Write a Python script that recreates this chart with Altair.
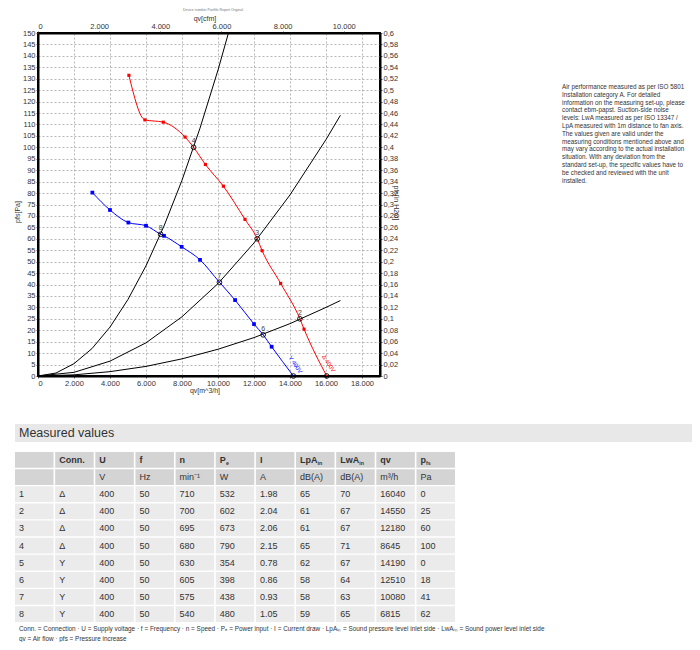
import altair as alt
import pandas as pd

# ---------------- data ----------------
# Fan curve "Δ 400V" (red): air flow m3/h, pressure Pa, 1 = drawn marker
red_q = [5050, 5940, 6960, 8170, 8645, 9300, 10300, 11500, 12180, 12450, 13480, 14550, 14780, 16040]
red_p = [131.5, 112.0, 111.0, 104.5, 100.0, 92.5, 83.0, 68.5, 60.0, 54.8, 40.5, 25.0, 20.5, 0.0]
red_m = [1, 1, 1, 1, 0, 1, 1, 1, 0, 1, 1, 0, 1, 0]
# Fan curve "Y 400V" (blue)
blue_q = [3020, 4000, 5020, 6000, 6815, 7000, 7980, 9000, 10080, 10950, 12000, 12510, 12980, 14190]
blue_p = [80.2, 72.6, 67.1, 65.7, 62.0, 61.3, 56.5, 50.8, 41.0, 33.2, 22.7, 18.0, 12.8, 0.0]
blue_m = [1, 1, 1, 1, 0, 1, 1, 1, 0, 1, 1, 0, 1, 0]
# System (resistance) curves, black
sysA_q = [0, 1000, 2000, 3000, 4000, 5000, 6000, 7000, 8000, 9000, 10000, 10580]
sysA_p = [0, 1.3, 5.4, 12.0, 21.4, 33.5, 48.2, 65.6, 85.6, 108.4, 133.8, 150.0]
sysB_q = [0, 2000, 4000, 6000, 8000, 10000, 12000, 14000, 16000, 16800]
sysB_p = [0, 1.6, 6.5, 14.5, 25.9, 40.4, 58.2, 79.2, 103.4, 114.0]
sysC_q = [0, 2000, 4000, 6000, 8000, 10000, 12000, 14000, 16000, 16800]
sysC_p = [0, 0.5, 1.9, 4.2, 7.5, 11.7, 16.8, 22.9, 30.0, 33.0]

# Measured values table
row_no = ["1", "2", "3", "4", "5", "6", "7", "8"]
conn = ["Δ", "Δ", "Δ", "Δ", "Y", "Y", "Y", "Y"]
volt = [400, 400, 400, 400, 400, 400, 400, 400]
freq = [50, 50, 50, 50, 50, 50, 50, 50]
speed = [710, 700, 695, 680, 630, 605, 575, 540]
power = [532, 602, 673, 790, 354, 398, 438, 480]
current = ["1.98", "2.04", "2.06", "2.15", "0.78", "0.86", "0.93", "1.05"]
lpa = [65, 61, 61, 65, 62, 58, 58, 59]
lwa = [70, 67, 67, 71, 67, 64, 63, 65]
qv = [16040, 14550, 12180, 8645, 14190, 12510, 10080, 6815]
pfs = [0, 25, 60, 100, 0, 18, 41, 62]

col_keys = ["no", "conn", "U", "f", "n", "Pe", "I", "LpA", "LwA", "qv", "pfs"]
head1 = ["", "Conn.", "U", "f", "n", "P", "I", "LpA", "LwA", "qv", "p"]
head2 = ["", "", "V", "Hz", "min⁻¹", "W", "A", "dB(A)", "dB(A)", "m³/h", "Pa"]
sub_keys = ["Pe", "LpA", "LwA", "pfs"]
sub_text = ["e", "in", "in", "fs"]

curve_names = ["Δ 400V", "Y 400V"]

note_lines = [
    "Air performance measured as per ISO 5801",
    "Installation category A. For detailed",
    "information on the measuring set-up, please",
    "contact ebm-papst. Suction-side noise",
    "levels: LwA measured as per ISO 13347 /",
    "LpA measured with 1m distance to fan axis.",
    "The values given are valid under the",
    "measuring conditions mentioned above and",
    "may vary according to the actual installation",
    "situation. With any deviation from the",
    "standard set-up, the specific values have to",
    "be checked and reviewed with the unit",
    "installed.",
]
foot1 = ("Conn. = Connection · U = Supply voltage · f = Frequency · n = Speed · Pₑ = Power input · "
         "I = Current draw · LpAᵢₙ = Sound pressure level inlet side · LwAᵢₙ = Sound power level inlet side")
foot2 = "qv = Air flow · pfs = Pressure increase"

# ---------------- frames ----------------
red_df = pd.DataFrame({"q": red_q, "p": red_p, "m": red_m})
blue_df = pd.DataFrame({"q": blue_q, "p": blue_p, "m": blue_m})
sys_df = pd.concat([
    pd.DataFrame({"q": sysA_q, "p": sysA_p, "c": "A"}),
    pd.DataFrame({"q": sysB_q, "p": sysB_p, "c": "B"}),
    pd.DataFrame({"q": sysC_q, "p": sysC_p, "c": "C"}),
])
op_df = pd.DataFrame({"q": qv, "p": pfs, "lab": row_no})
lbl_df = pd.DataFrame({"q": [16150, 14300], "p": [5.5, 5.0], "t": curve_names, "k": ["r", "b"]})

cells = []
for c, t in zip(col_keys, head1):
    cells.append({"col": c, "row": "h1", "text": t, "kind": "head"})
for c, t in zip(col_keys, head2):
    cells.append({"col": c, "row": "h2", "text": t, "kind": "head"})
for i in range(8):
    vals = [row_no[i], conn[i], volt[i], freq[i], speed[i], power[i], current[i],
            lpa[i], lwa[i], qv[i], pfs[i]]
    for c, v in zip(col_keys, vals):
        cells.append({"col": c, "row": row_no[i], "text": str(v), "kind": "body"})
tab_df = pd.DataFrame(cells)
sub_df = pd.DataFrame({"col": sub_keys, "row": "h1", "sub": sub_text})
row_keys = ["h1", "h2"] + row_no
one = pd.DataFrame({"a": [0]})

FONT = "Liberation Sans"
TXT = "#333333"

# ---------------- main plot ----------------
X = alt.X("q:Q", scale=alt.Scale(domain=[0, 19000], nice=False),
          axis=alt.Axis(values=list(range(0, 19000, 2000)), title=None, orient="bottom",
                        labelExpr="replace(format(datum.value, ','), ',', '.')"))
Y = alt.Y("p:Q", scale=alt.Scale(domain=[0, 150], nice=False),
          axis=alt.Axis(values=list(range(0, 155, 5)), title=None, orient="left"))

sys_line = alt.Chart(sys_df).mark_line(color="black", strokeWidth=1).encode(x=X, y=Y, detail="c:N")
red_line = alt.Chart(red_df).mark_line(color="#ff0000", strokeWidth=1, interpolate="monotone").encode(x=X, y=Y)
red_pts = alt.Chart(red_df).transform_filter("datum.m == 1").mark_square(size=10, color="#ff0000", opacity=1).encode(x=X, y=Y)
blue_line = alt.Chart(blue_df).mark_line(color="#0000ff", strokeWidth=1, interpolate="monotone").encode(x=X, y=Y)
blue_pts = alt.Chart(blue_df).transform_filter("datum.m == 1").mark_square(size=14, color="#0000ff", opacity=1).encode(x=X, y=Y)
op_pts = alt.Chart(op_df).mark_point(shape="circle", size=22, filled=False, color="black",
                                     strokeWidth=0.9, opacity=1).encode(x=X, y=Y)
op_txt = alt.Chart(op_df).transform_filter("datum.p > 0").mark_text(
    dy=-6, fontSize=7, font=FONT, color="#444").encode(x=X, y=Y, text="lab:N")
red_lbl = alt.Chart(lbl_df).transform_filter("datum.k == 'r'").mark_text(
    angle=56, fontSize=6, font=FONT, color="#ff0000").encode(x=X, y=Y, text="t:N")
blue_lbl = alt.Chart(lbl_df).transform_filter("datum.k == 'b'").mark_text(
    angle=56, fontSize=6, font=FONT, color="#0000ff").encode(x=X, y=Y, text="t:N")

main = alt.layer(sys_line, red_line, blue_line, red_pts, blue_pts, op_pts, op_txt, red_lbl, blue_lbl)

top_axis = alt.Chart(one).mark_point(opacity=0).encode(
    x=alt.X("a:Q", scale=alt.Scale(domain=[0, 11183], nice=False),
            axis=alt.Axis(orient="top", values=list(range(0, 12000, 2000)), title=None, grid=False,
                          labelExpr="replace(format(datum.value, ','), ',', '.')")),
    y=alt.Y("a:Q", axis=None, scale=alt.Scale(domain=[0, 1])),
)
right_axis = alt.Chart(one).mark_point(opacity=0).encode(
    x=alt.X("a:Q", axis=None, scale=alt.Scale(domain=[0, 1])),
    y=alt.Y("a:Q", scale=alt.Scale(domain=[0, 0.6], nice=False),
            axis=alt.Axis(orient="right", values=[round(i * 0.02, 2) for i in range(31)], title=None,
                          grid=False, labelExpr="replace(format(datum.value, '.2~f'), '.', ',')")),
)

# ---------------- table ----------------
tx_scale = alt.Scale(type="band", domain=col_keys, range=[-23, 417], paddingInner=0.04, paddingOuter=0)
ty_scale = alt.Scale(type="band", domain=row_keys, range=[419, 589], paddingInner=0.08, paddingOuter=0)
XR = alt.X("col:N", scale=tx_scale, axis=None)
XT = alt.X("col:N", scale=tx_scale, axis=None, bandPosition=0)
YT = alt.Y("row:N", scale=ty_scale, axis=None)

t_cells = alt.Chart(tab_df).mark_rect().encode(
    x=XR, y=YT,
    color=alt.Color("kind:N", scale=alt.Scale(domain=["head", "body"], range=["#d4d4d4", "#ebebeb"]), legend=None),
)
t_body = alt.Chart(tab_df).transform_filter("datum.row != 'h1'").mark_text(
    align="left", dx=4, font=FONT, fontSize=9, color=TXT).encode(x=XT, y=YT, text="text:N")
t_head = alt.Chart(tab_df).transform_filter("datum.row == 'h1'").mark_text(
    align="left", dx=4, font=FONT, fontSize=9, fontWeight="bold", color=TXT).encode(x=XT, y=YT, text="text:N")
sub_dx = {"Pe": 10.2, "LpA": 21.6, "LwA": 23.2, "pfs": 9.6}
t_subs = [
    alt.Chart(sub_df).transform_filter(f"datum.col == '{k}'").mark_text(
        align="left", dx=sub_dx[k], dy=2.7, font=FONT, fontSize=5.3, fontWeight="bold", color=TXT
    ).encode(x=XT, y=YT, text="sub:N")
    for k in sub_keys
]
table = alt.layer(t_cells, t_body, t_head, *t_subs)


# ---------------- decorations ----------------
def deco(text, x, y, **kw):
    return alt.Chart(one).mark_text(**kw).encode(x=alt.value(x), y=alt.value(y), text=alt.value(text))


band = alt.Chart(one).mark_rect(color="#e8e8e8").encode(
    x=alt.value(-23), x2=alt.value(657), y=alt.value(391), y2=alt.value(409))
decos = [
    band,
    deco("Measured values", -19, 400, align="left", baseline="middle", font=FONT, fontSize=12.5, color=TXT),
    deco("Device number Partfile Report Original", 175, -23, align="center", baseline="middle",
         font=FONT, fontSize=3.5, color="#777"),
    deco("qv[cfm]", 167, -14, align="center", baseline="middle", font=FONT, fontSize=7, color=TXT),
    deco("qv[m^3/h]", 167, 358, align="center", baseline="middle", font=FONT, fontSize=7, color=TXT),
    deco("pfs[Pa]", -20, 179, align="center", baseline="middle", angle=270, font=FONT, fontSize=7, color=TXT),
    deco("pfs[in H2O]", 358, 170, align="center", baseline="middle", angle=90, font=FONT, fontSize=7, color=TXT),
    deco(note_lines, 524, 51, align="left", baseline="top", lineHeight=7.8, font=FONT, fontSize=6.3, color=TXT),
    deco(foot1, -19, 596, align="left", baseline="middle", font=FONT, fontSize=6.4, color=TXT),
    deco(foot2, -19, 605.5, align="left", baseline="middle", font=FONT, fontSize=6.4, color=TXT),
]

chart = alt.layer(main, top_axis, right_axis, table, *decos).resolve_scale(
    x="independent", y="independent", color="independent"
).properties(
    width=342, height=343,
    autosize=alt.AutoSizeParams(type="none"),
    padding={"left": 30, "top": 25, "right": 312, "bottom": 266},
).configure_view(
    stroke="black", strokeWidth=2
).configure_axis(
    labelFont=FONT, labelFontSize=7.5, labelColor=TXT, labelPadding=1,
    tickSize=2, tickColor="#333", tickWidth=0.8,
    domainColor="black", domainWidth=2,
    gridColor="#999999", gridDash=[2, 2], gridWidth=0.7,
)

chart.save("out.html", embed_options={"renderer": "svg", "actions": False})
